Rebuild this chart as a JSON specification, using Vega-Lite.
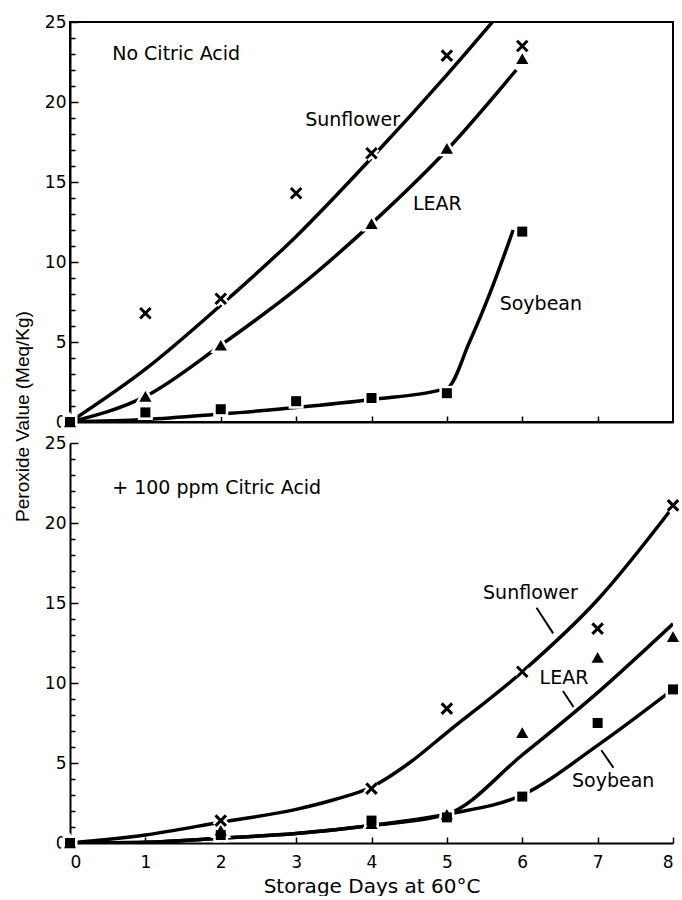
{
  "$schema": "https://vega.github.io/schema/vega-lite/v6.json",
  "padding": {"left": 12, "top": 12, "right": 4, "bottom": 0},
  "background": "white",
  "config": {
    "font": "DejaVu Sans",
    "view": {"stroke": null},
    "axis": {
      "domainColor": "black", "domainWidth": 2, "tickColor": "black", "tickWidth": 1.5,
      "labelColor": "black", "labelFont": "DejaVu Sans", "labelFontSize": 17,
      "grid": false, "titleColor": "black", "titleFontWeight": "normal"
    }
  },
  "datasets": {
    "curvesTop": [
      {"series": "Sunflower", "day": 0, "pv": 0}, {"series": "Sunflower", "day": 1, "pv": 3.3},
      {"series": "Sunflower", "day": 2, "pv": 7.3}, {"series": "Sunflower", "day": 3, "pv": 11.6},
      {"series": "Sunflower", "day": 4, "pv": 16.5}, {"series": "Sunflower", "day": 5, "pv": 21.7},
      {"series": "Sunflower", "day": 6, "pv": 27.2},
      {"series": "LEAR", "day": 0, "pv": 0}, {"series": "LEAR", "day": 1, "pv": 1.6},
      {"series": "LEAR", "day": 2, "pv": 4.8}, {"series": "LEAR", "day": 3, "pv": 8.3},
      {"series": "LEAR", "day": 4, "pv": 12.4}, {"series": "LEAR", "day": 5, "pv": 17.0},
      {"series": "LEAR", "day": 5.92, "pv": 22.0},
      {"series": "Soybean", "day": 0, "pv": 0}, {"series": "Soybean", "day": 1, "pv": 0.15},
      {"series": "Soybean", "day": 2, "pv": 0.5}, {"series": "Soybean", "day": 3, "pv": 0.9},
      {"series": "Soybean", "day": 4, "pv": 1.4}, {"series": "Soybean", "day": 5, "pv": 2.1},
      {"series": "Soybean", "day": 5.3, "pv": 5.0}, {"series": "Soybean", "day": 5.6, "pv": 8.4},
      {"series": "Soybean", "day": 5.88, "pv": 12.0}
    ],
    "ptsTop": [
      {"series": "Sunflower", "day": 1, "pv": 6.8}, {"series": "Sunflower", "day": 2, "pv": 7.7},
      {"series": "Sunflower", "day": 3, "pv": 14.3}, {"series": "Sunflower", "day": 4, "pv": 16.8},
      {"series": "Sunflower", "day": 5, "pv": 22.9}, {"series": "Sunflower", "day": 6, "pv": 23.5},
      {"series": "LEAR", "day": 0, "pv": 0}, {"series": "LEAR", "day": 1, "pv": 1.6},
      {"series": "LEAR", "day": 2, "pv": 4.8}, {"series": "LEAR", "day": 4, "pv": 12.4},
      {"series": "LEAR", "day": 5, "pv": 17.1}, {"series": "LEAR", "day": 6, "pv": 22.7},
      {"series": "Soybean", "day": 0, "pv": 0}, {"series": "Soybean", "day": 1, "pv": 0.6},
      {"series": "Soybean", "day": 2, "pv": 0.8}, {"series": "Soybean", "day": 3, "pv": 1.3},
      {"series": "Soybean", "day": 4, "pv": 1.5}, {"series": "Soybean", "day": 5, "pv": 1.8},
      {"series": "Soybean", "day": 6, "pv": 11.9}
    ],
    "labelsTop": [
      {"day": 0.56, "pv": 23.0, "label": "No Citric Acid"},
      {"day": 3.12, "pv": 18.9, "label": "Sunflower"},
      {"day": 4.55, "pv": 13.6, "label": "LEAR"},
      {"day": 5.70, "pv": 7.4, "label": "Soybean"}
    ],
    "curvesBot": [
      {"series": "Sunflower", "day": 0, "pv": 0}, {"series": "Sunflower", "day": 1, "pv": 0.5},
      {"series": "Sunflower", "day": 2, "pv": 1.3}, {"series": "Sunflower", "day": 3, "pv": 2.1},
      {"series": "Sunflower", "day": 3.5, "pv": 2.7}, {"series": "Sunflower", "day": 4, "pv": 3.5},
      {"series": "Sunflower", "day": 4.5, "pv": 5.0}, {"series": "Sunflower", "day": 5, "pv": 6.9},
      {"series": "Sunflower", "day": 6, "pv": 10.7}, {"series": "Sunflower", "day": 7, "pv": 15.2},
      {"series": "Sunflower", "day": 8, "pv": 21.0},
      {"series": "LEAR", "day": 0, "pv": 0}, {"series": "LEAR", "day": 1, "pv": 0.05},
      {"series": "LEAR", "day": 2, "pv": 0.3}, {"series": "LEAR", "day": 3, "pv": 0.6},
      {"series": "LEAR", "day": 4, "pv": 1.1}, {"series": "LEAR", "day": 5, "pv": 1.8},
      {"series": "LEAR", "day": 6, "pv": 5.5}, {"series": "LEAR", "day": 7, "pv": 9.4},
      {"series": "LEAR", "day": 8, "pv": 13.7},
      {"series": "Soybean", "day": 0, "pv": 0}, {"series": "Soybean", "day": 1, "pv": 0.05},
      {"series": "Soybean", "day": 2, "pv": 0.3}, {"series": "Soybean", "day": 3, "pv": 0.6},
      {"series": "Soybean", "day": 4, "pv": 1.1}, {"series": "Soybean", "day": 5, "pv": 1.8},
      {"series": "Soybean", "day": 6, "pv": 3.0}, {"series": "Soybean", "day": 7, "pv": 6.1},
      {"series": "Soybean", "day": 8, "pv": 9.6}
    ],
    "ptsBot": [
      {"series": "Sunflower", "day": 2, "pv": 1.4}, {"series": "Sunflower", "day": 4, "pv": 3.4},
      {"series": "Sunflower", "day": 5, "pv": 8.4}, {"series": "Sunflower", "day": 6, "pv": 10.7},
      {"series": "Sunflower", "day": 7, "pv": 13.4}, {"series": "Sunflower", "day": 8, "pv": 21.1},
      {"series": "LEAR", "day": 0, "pv": 0}, {"series": "LEAR", "day": 2, "pv": 0.8},
      {"series": "LEAR", "day": 4, "pv": 1.2}, {"series": "LEAR", "day": 5, "pv": 1.8},
      {"series": "LEAR", "day": 6, "pv": 6.9}, {"series": "LEAR", "day": 7, "pv": 11.6},
      {"series": "LEAR", "day": 8, "pv": 12.9},
      {"series": "Soybean", "day": 0, "pv": 0}, {"series": "Soybean", "day": 2, "pv": 0.5},
      {"series": "Soybean", "day": 4, "pv": 1.4}, {"series": "Soybean", "day": 5, "pv": 1.6},
      {"series": "Soybean", "day": 6, "pv": 2.9}, {"series": "Soybean", "day": 7, "pv": 7.5},
      {"series": "Soybean", "day": 8, "pv": 9.6}
    ],
    "labelsBot": [
      {"day": 0.56, "pv": 22.2, "label": "+ 100 ppm Citric Acid"},
      {"day": 5.48, "pv": 15.6, "label": "Sunflower"},
      {"day": 6.23, "pv": 10.3, "label": "LEAR"},
      {"day": 6.66, "pv": 3.9, "label": "Soybean"}
    ],
    "leadersBot": [
      {"day": 6.19, "pv": 14.7, "day2": 6.41, "pv2": 13.1},
      {"day": 6.54, "pv": 9.5, "day2": 6.68, "pv2": 8.5},
      {"day": 7.05, "pv": 5.8, "day2": 7.21, "pv2": 4.7}
    ]
  },
  "spacing": 21,
  "bounds": "flush",
  "vconcat": [
    {
      "width": 603, "height": 400,
      "view": {"stroke": "black", "strokeWidth": 2},
      "encoding": {
        "x": {"field": "day", "type": "quantitative",
          "scale": {"domain": [0, 8], "nice": false},
          "axis": {"values": [1, 2, 3, 4, 5, 6, 7], "labels": false, "tickSize": -6, "title": null}},
        "y": {"field": "pv", "type": "quantitative",
          "scale": {"domain": [0, 25], "nice": false},
          "axis": {
            "values": [0,1,2,3,4,5,6,7,8,9,10,11,12,13,14,15,16,17,18,19,20,21,22,23,24,25],
            "labelExpr": "datum.value % 5 === 0 ? datum.label : ''",
            "tickSize": {"condition": {"test": "datum.value % 5 === 0", "value": -8}, "value": -5},
            "labelPadding": 12,
            "title": "Peroxide Value (Meq/Kg)",
            "titleFont": "Liberation Sans", "titleFontSize": 19,
            "titleAngle": -90, "titleAlign": "center", "titleBaseline": "alphabetic",
            "titleX": -42, "titleY": 394
          }}
      },
      "layer": [
        {"data": {"name": "curvesTop"},
         "mark": {"type": "line", "interpolate": "monotone", "color": "black", "strokeWidth": 3.5, "clip": true},
         "encoding": {"detail": {"field": "series"}}},
        {"data": {"name": "ptsTop"}, "transform": [{"filter": "datum.series === 'Sunflower'"}],
         "mark": {"type": "point", "shape": "M-1,-1L1,1M-1,1L1,-1", "filled": false, "color": "white", "strokeWidth": 8, "size": 110, "opacity": 1}},
        {"data": {"name": "ptsTop"}, "transform": [{"filter": "datum.series === 'LEAR'"}],
         "mark": {"type": "point", "shape": "triangle-up", "filled": true, "color": "white", "stroke": "white", "strokeWidth": 5, "size": 150, "opacity": 1}},
        {"data": {"name": "ptsTop"}, "transform": [{"filter": "datum.series === 'Soybean'"}],
         "mark": {"type": "point", "shape": "square", "filled": true, "color": "white", "stroke": "white", "strokeWidth": 5, "size": 100, "opacity": 1}},
        {"data": {"name": "ptsTop"}, "transform": [{"filter": "datum.series === 'Sunflower'"}],
         "mark": {"type": "point", "shape": "M-1,-1L1,1M-1,1L1,-1", "filled": false, "color": "black", "strokeWidth": 3, "size": 110, "opacity": 1}},
        {"data": {"name": "ptsTop"}, "transform": [{"filter": "datum.series === 'LEAR'"}],
         "mark": {"type": "point", "shape": "triangle-up", "filled": true, "color": "black", "size": 150, "opacity": 1}},
        {"data": {"name": "ptsTop"}, "transform": [{"filter": "datum.series === 'Soybean'"}],
         "mark": {"type": "point", "shape": "square", "filled": true, "color": "black", "size": 100, "opacity": 1}},
        {"data": {"name": "labelsTop"},
         "mark": {"type": "text", "align": "left", "baseline": "middle", "font": "DejaVu Sans", "fontSize": 19, "color": "black"},
         "encoding": {"text": {"field": "label"}}}
      ]
    },
    {
      "width": 603, "height": 400,
      "encoding": {
        "x": {"field": "day", "type": "quantitative",
          "scale": {"domain": [0, 8], "nice": false},
          "axis": {"values": [0, 1, 2, 3, 4, 5, 6, 7, 8], "tickSize": -6, "labelPadding": 17,
            "title": "Storage Days at 60°C", "titleFont": "DejaVu Sans", "titleFontSize": 20, "titlePadding": 6}},
        "y": {"field": "pv", "type": "quantitative",
          "scale": {"domain": [0, 25], "nice": false},
          "axis": {
            "values": [0,1,2,3,4,5,6,7,8,9,10,11,12,13,14,15,16,17,18,19,20,21,22,23,24,25],
            "labelExpr": "datum.value % 5 === 0 ? datum.label : ''",
            "tickSize": {"condition": {"test": "datum.value % 5 === 0", "value": -8}, "value": -5},
            "labelPadding": 12,
            "title": null
          }}
      },
      "layer": [
        {"mark": {"type": "rule", "color": "black", "strokeWidth": 2},
         "encoding": {"x": {"datum": 8}, "y": {"datum": 0}, "y2": {"datum": 26.3}}},
        {"data": {"name": "curvesBot"},
         "mark": {"type": "line", "interpolate": "monotone", "color": "black", "strokeWidth": 3.5, "clip": true},
         "encoding": {"detail": {"field": "series"}}},
        {"data": {"name": "ptsBot"}, "transform": [{"filter": "datum.series === 'Sunflower'"}],
         "mark": {"type": "point", "shape": "M-1,-1L1,1M-1,1L1,-1", "filled": false, "color": "white", "strokeWidth": 8, "size": 110, "opacity": 1}},
        {"data": {"name": "ptsBot"}, "transform": [{"filter": "datum.series === 'LEAR'"}],
         "mark": {"type": "point", "shape": "triangle-up", "filled": true, "color": "white", "stroke": "white", "strokeWidth": 5, "size": 150, "opacity": 1}},
        {"data": {"name": "ptsBot"}, "transform": [{"filter": "datum.series === 'Soybean'"}],
         "mark": {"type": "point", "shape": "square", "filled": true, "color": "white", "stroke": "white", "strokeWidth": 5, "size": 100, "opacity": 1}},
        {"data": {"name": "ptsBot"}, "transform": [{"filter": "datum.series === 'Sunflower'"}],
         "mark": {"type": "point", "shape": "M-1,-1L1,1M-1,1L1,-1", "filled": false, "color": "black", "strokeWidth": 3, "size": 110, "opacity": 1}},
        {"data": {"name": "ptsBot"}, "transform": [{"filter": "datum.series === 'LEAR'"}],
         "mark": {"type": "point", "shape": "triangle-up", "filled": true, "color": "black", "size": 150, "opacity": 1}},
        {"data": {"name": "ptsBot"}, "transform": [{"filter": "datum.series === 'Soybean'"}],
         "mark": {"type": "point", "shape": "square", "filled": true, "color": "black", "size": 100, "opacity": 1}},
        {"data": {"name": "labelsBot"},
         "mark": {"type": "text", "align": "left", "baseline": "middle", "font": "DejaVu Sans", "fontSize": 19, "color": "black"},
         "encoding": {"text": {"field": "label"}}},
        {"data": {"name": "leadersBot"},
         "mark": {"type": "rule", "color": "black", "strokeWidth": 2},
         "encoding": {"x2": {"field": "day2"}, "y2": {"field": "pv2"}}}
      ]
    }
  ]
}
